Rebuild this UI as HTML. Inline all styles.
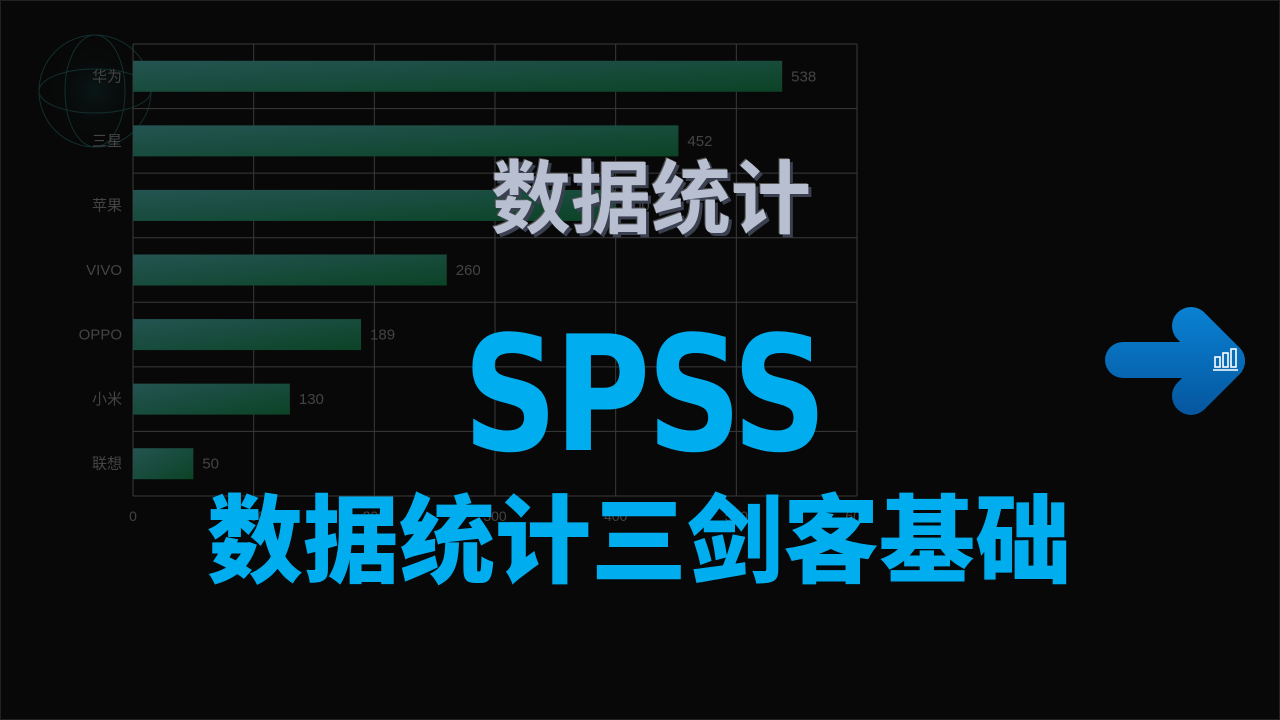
<!DOCTYPE html>
<html><head><meta charset="utf-8">
<style>
html,body{margin:0;padding:0;background:#080808;}
#root{position:relative;width:1280px;height:720px;overflow:hidden;background:#080808;box-sizing:border-box;border:1px solid #222;font-family:"Liberation Sans","Noto Sans CJK SC",sans-serif;}
.t{position:absolute;white-space:nowrap;}
</style></head><body>
<div id="root">
<svg id="chart" width="1280" height="720" style="position:absolute;left:0;top:0">
<defs>
<linearGradient id="bg" x1="0" y1="0" x2="1" y2="1">
<stop offset="0" stop-color="#245452"/><stop offset="1" stop-color="#0b4326"/>
</linearGradient>
<radialGradient id="globe" cx="0.5" cy="0.5" r="0.5">
<stop offset="0" stop-color="#0d2a2a" stop-opacity="0.6"/><stop offset="1" stop-color="#080808" stop-opacity="0"/>
</radialGradient>
</defs>
<g opacity="0.7">
<circle cx="94" cy="90" r="56" fill="url(#globe)" stroke="#17403f" stroke-width="1"/>
<ellipse cx="94" cy="90" rx="30" ry="56" fill="none" stroke="#17403f"/>
<ellipse cx="94" cy="90" rx="56" ry="22" fill="none" stroke="#17403f"/>
</g>
<g id="grid"></g><g id="bars"></g><g id="labels"></g>
</svg>
<div class="t" style="left:490px;top:134px;font-size:80px;font-weight:bold;color:#b8bfd0;text-shadow:3px 3px 0 #3a4050,-1px -1px 0 #555;">数据统计</div>
<div class="t" style="left:462px;top:300px;font-size:160px;font-weight:bold;color:#00aeef;font-family:'DejaVu Sans','Liberation Sans',sans-serif;letter-spacing:-4px;transform:scaleX(0.82);transform-origin:0 0;">SPSS</div>
<div class="t" style="left:206px;top:463px;font-size:96px;font-weight:900;color:#00aeef;">数据统计三剑客基础</div>
<svg width="150" height="120" style="position:absolute;left:1100px;top:300px">
<defs><linearGradient id="ab" gradientUnits="userSpaceOnUse" x1="0" y1="0" x2="0" y2="115"><stop offset="0" stop-color="#0a84d6"/><stop offset="1" stop-color="#05569e"/></linearGradient></defs>
<line x1="22" y1="59" x2="120" y2="59" stroke="url(#ab)" stroke-width="36" stroke-linecap="round"/>
<line x1="90" y1="25" x2="125" y2="60" stroke="url(#ab)" stroke-width="38" stroke-linecap="round"/>
<line x1="90" y1="95" x2="125" y2="60" stroke="url(#ab)" stroke-width="38" stroke-linecap="round"/>
<g stroke="#fff" stroke-width="1.6" fill="none"><rect x="114" y="56" width="5" height="10"/><rect x="122" y="52" width="5" height="14"/><rect x="130" y="48" width="5" height="18"/><line x1="112" y1="69" x2="137" y2="69"/></g>
</svg>
</div>
<script>
const categories=["华为","三星","苹果","VIVO","OPPO","小米","联想"];
const values=[538,452,400,260,189,130,50];
const ticks=[0,100,200,300,400,500,600];
const L=132,R=856,T=43,B=495,MAX=600;
const NS="http://www.w3.org/2000/svg";
const x=v=>L+(R-L)*v/MAX;
const band=(B-T)/categories.length;
function mk(tag,a,parent,txt){const e=document.createElementNS(NS,tag);for(const k in a)e.setAttribute(k,a[k]);if(txt!==undefined)e.textContent=txt;parent.appendChild(e);return e;}
const g=document.getElementById('grid'),b=document.getElementById('bars'),lb=document.getElementById('labels');
ticks.forEach(t=>{
 const l=mk('line',{x1:x(t),x2:x(t),y1:T,y2:B,stroke:'#3a3a3a','stroke-width':1},g);
 
 
 const tx=mk('text',{x:x(t),y:520,fill:'#444','font-size':14,'text-anchor':'middle','font-family':'Liberation Sans, sans-serif'},lb,String(t));
 
 
});
for(let i=0;i<=categories.length;i++){
 const l=mk('line',{x1:L,x2:R,y1:T+i*band,y2:T+i*band,stroke:'#3a3a3a','stroke-width':1},g);
 
 
}
categories.forEach((c,i)=>{
 const cy=T+band*(i+0.5);
 const r=mk('rect',{x:L,y:cy-15.5,width:x(values[i])-L,height:31,fill:'url(#bg)'},b);
 
 
 const v=mk('text',{x:x(values[i])+9,y:cy+5,fill:'#444','font-size':15,'font-family':'Liberation Sans, sans-serif'},lb,String(values[i]));
 
 
 const cl=mk('text',{x:121,y:cy+5,fill:'#444','font-size':15,'text-anchor':'end','font-family':'Liberation Sans, Noto Sans CJK SC, sans-serif'},lb,c);
 
 
});
</script>
</body></html>
